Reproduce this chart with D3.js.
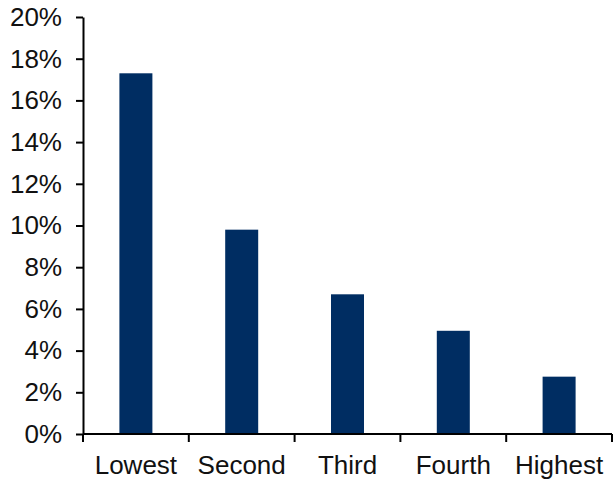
<!DOCTYPE html>
<html><head><meta charset="utf-8">
<script src="https://cdn.jsdelivr.net/npm/d3@7"></script>
<style>body{margin:0;background:#fff}svg text{font-family:"Liberation Sans",Arial,sans-serif}</style>
</head><body>
<svg id="c" width="614" height="483"></svg>
<script>
const categories = ["Lowest","Second","Third","Fourth","Highest"];
const values = [17.3, 9.8, 6.7, 4.95, 2.75];
const yTicks = [0,2,4,6,8,10,12,14,16,18,20];

const svg = d3.select("#c");
const x0 = 83, x1 = 612, yB = 434, yT = 17;
const x = d3.scaleBand().domain(categories).range([x0, x1]).padding(0);
const y = d3.scaleLinear().domain([0, 20]).range([yB, yT]);
const barW = 33;
const color = "#002D62";

svg.append("g").selectAll("rect").data(values).join("rect")
  .attr("x", (d,i) => x(categories[i]) + x.bandwidth()/2 - barW/2)
  .attr("y", d => y(d))
  .attr("width", barW)
  .attr("height", d => y(0) - y(d))
  .attr("fill", color);

// y axis
const ya = svg.append("g").attr("transform", `translate(${x0},0)`)
  .call(d3.axisLeft(y).tickValues(yTicks).tickFormat(d => d + "%").tickSize(7).tickSizeOuter(0).tickPadding(14));
ya.select(".domain").attr("stroke", "#000").attr("stroke-width", 2);
ya.selectAll(".tick line").attr("stroke", "#000").attr("stroke-width", 2);
ya.selectAll(".tick text").attr("font-size", 26).attr("fill", "#111").attr("font-family", "Liberation Sans, Arial, sans-serif");

// x axis
const xa = svg.append("g").attr("transform", `translate(0,${yB})`);
xa.append("line").attr("x1", x0).attr("x2", x1).attr("y1", 0).attr("y2", 0)
  .attr("stroke", "#000").attr("stroke-width", 2);
const bounds = categories.map(c => x(c)).concat([x1]);
xa.selectAll("line.tk").data(bounds).join("line").attr("class","tk")
  .attr("x1", d => d).attr("x2", d => d).attr("y1", 0).attr("y2", 8)
  .attr("stroke", "#000").attr("stroke-width", 2);
xa.selectAll("text").data(categories).join("text")
  .attr("x", d => x(d) + x.bandwidth()/2)
  .attr("y", 40)
  .attr("text-anchor", "middle")
  .attr("font-size", 26)
  .attr("fill", "#111")
  .text(d => d);
</script>
</body></html>
